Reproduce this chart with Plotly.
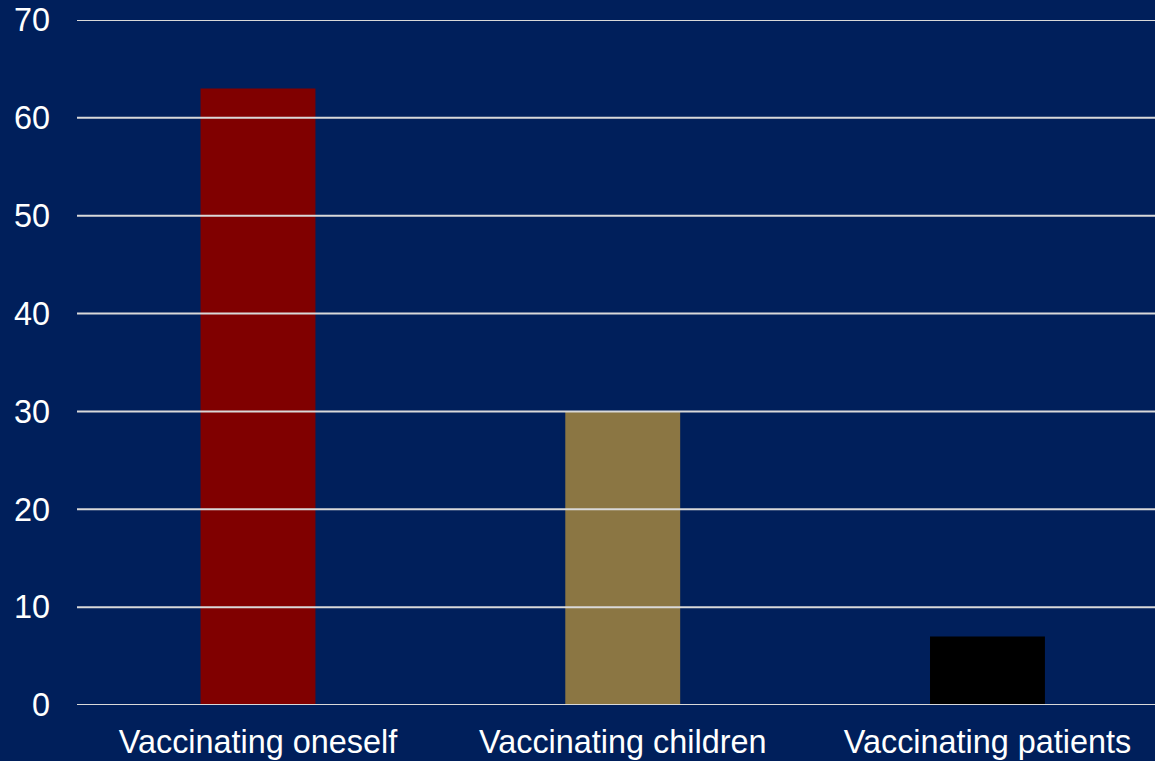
import plotly.graph_objects as go

categories = ["Vaccinating oneself", "Vaccinating children", "Vaccinating patients"]
values = [63, 30, 7]
bar_colors = ["#800000", "#8B7643", "#000000"]
y_ticks = [0, 10, 20, 30, 40, 50, 60, 70]

navy = "#001F5B"
grid_color = "#D9D9D9"
font = dict(family="Liberation Sans, Arial, sans-serif", size=32.4, color="white")

fig = go.Figure(
    go.Bar(
        x=list(range(len(categories))),
        y=values,
        marker=dict(color=bar_colors, line=dict(width=0)),
        width=0.315,
    )
)

# horizontal rules drawn over the bars
for t in y_ticks:
    fig.add_shape(
        type="line", xref="paper", yref="y", x0=0, x1=1, y0=t, y1=t,
        line=dict(color=grid_color, width=2), layer="above",
    )

fig.update_layout(
    width=1155,
    height=761,
    margin=dict(l=77, r=0, t=20, b=56),
    paper_bgcolor=navy,
    plot_bgcolor=navy,
    font=font,
    showlegend=False,
    xaxis=dict(
        tickmode="array",
        tickvals=list(range(len(categories))),
        ticktext=categories,
        range=[-0.4962, 2.4593],
        showgrid=False,
        zeroline=False,
        showline=False,
        ticks="",
        ticklabelstandoff=15,
        tickfont=font,
    ),
    yaxis=dict(
        range=[0, 70],
        tickvals=y_ticks,
        showgrid=False,
        zeroline=False,
        showline=False,
        ticks="",
        ticklabelstandoff=26,
        tickfont=font,
    ),
)

fig.write_html("out.html")
